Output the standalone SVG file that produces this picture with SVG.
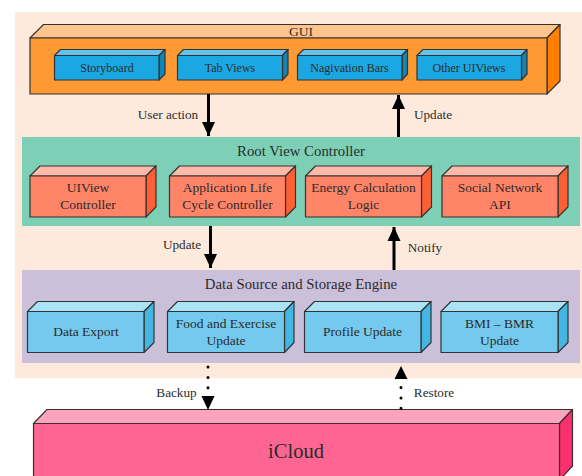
<svg xmlns="http://www.w3.org/2000/svg" width="582" height="476" viewBox="0 0 582 476">
<style>
text{font-family:"Liberation Serif","Times New Roman",serif;fill:#2b2b2b;text-anchor:middle}
.e{stroke:#333;stroke-width:1.2;stroke-linejoin:round}
.t12{font-size:12px}.t13{font-size:13.5px}.t14{font-size:14.8px}.t22{font-size:20.500px}
.lab{font-size:13.200px}
.go{fill:#ff9933}.gt{fill:#ffc48c}.gs{fill:#ff8000}
.bo{fill:#1ba7e2}.bt{fill:#62c4ee}.bs{fill:#1486b6}
.ro{fill:#ff8468}.rt{fill:#ffb9a8}.rs{fill:#ff5f35}
.lo{fill:#74caee}.lt{fill:#aae2f6}.ls{fill:#44b6e4}
.po{fill:#ff6593}.pt{fill:#ffa3bf}.ps{fill:#ff2f6f}
.c{stroke:#000;stroke-width:3;fill:none}
.d{stroke:#000;stroke-width:3;fill:none;stroke-linecap:round;stroke-dasharray:0 10.4}
</style>
<defs>
<marker id="a" markerUnits="userSpaceOnUse" markerWidth="14" markerHeight="14" refX="14" refY="7" orient="auto"><path d="M0 0.5L14 7L0 13.5Z" fill="#000"/></marker>
</defs>
<g id="backgrounds">
<rect x="15" y="12" width="567" height="366" fill="#fdeadd"/>
<rect x="22" y="137" width="558" height="89" fill="#7dd0b6"/>
<rect x="22" y="270" width="558" height="93" fill="#cbc0da"/>
</g>
<g id="gui">
<path class="e gt" d="M30 38L43.500 24.500H560L547 38Z"/><path class="e gs" d="M547 38L560 24.500V81L547 94Z"/><rect class="e go" x="30" y="38" width="517" height="56"/>
<text class="t13" x="301" y="36">GUI</text>
</g>
<g id="storyboard">
<path class="e bt" d="M54.500 55.500L60.500 49.500H165L159 55.500Z"/><path class="e bs" d="M159 55.500L165 49.500V74L159 80Z"/><rect class="e bo" x="54.500" y="55.500" width="104.500" height="24.500"/>
<text class="t12" x="107" y="71.500">Storyboard</text>
</g>
<g id="tab-views">
<path class="e bt" d="M177.500 55.500L183.500 49.500H288L282.500 55.500Z"/><path class="e bs" d="M282.500 55.500L288 49.500V74L282.500 80Z"/><rect class="e bo" x="177.500" y="55.500" width="105" height="24.500"/>
<text class="t12" x="230" y="71.500">Tab Views</text>
</g>
<g id="navigation-bars">
<path class="e bt" d="M297.500 55.500L303.500 49.500H407.500L402 55.500Z"/><path class="e bs" d="M402 55.500L407.500 49.500V74L402 80Z"/><rect class="e bo" x="297.500" y="55.500" width="104.500" height="24.500"/>
<text class="t12" x="349.500" y="71.500">Nagivation Bars</text>
</g>
<g id="other-uiviews">
<path class="e bt" d="M417 55.500L423 49.500H527L521.500 55.500Z"/><path class="e bs" d="M521.500 55.500L527 49.500V74L521.500 80Z"/><rect class="e bo" x="417" y="55.500" width="104.500" height="24.500"/>
<text class="t12" x="469" y="71.500">Other UIViews</text>
</g>
<g id="root-view-controller">
<text class="t14" x="301" y="156">Root View Controller</text>
</g>
<g id="uiview-controller">
<path class="e rt" d="M30 176L40 166H156L146 176Z"/><path class="e rs" d="M146 176L156 166V207L146 217Z"/><rect class="e ro" x="30" y="176" width="116" height="41"/>
<text class="t13" x="88" y="192">UIView</text><text class="t13" x="88" y="209">Controller</text>
</g>
<g id="app-lifecycle">
<path class="e rt" d="M169.500 176L179.500 166H295.500L285.500 176Z"/><path class="e rs" d="M285.500 176L295.500 166V207L285.500 217Z"/><rect class="e ro" x="169.500" y="176" width="116" height="41"/>
<text class="t13" x="227.500" y="192">Application Life</text><text class="t13" x="227.500" y="209">Cycle Controller</text>
</g>
<g id="energy-logic">
<path class="e rt" d="M305.500 176L315.500 166H431.500L421.500 176Z"/><path class="e rs" d="M421.500 176L431.500 166V207L421.500 217Z"/><rect class="e ro" x="305.500" y="176" width="116" height="41"/>
<text class="t13" x="363.500" y="192">Energy Calculation</text><text class="t13" x="363.500" y="209">Logic</text>
</g>
<g id="social-api">
<path class="e rt" d="M442 176L452 166H568L558 176Z"/><path class="e rs" d="M558 176L568 166V207L558 217Z"/><rect class="e ro" x="442" y="176" width="116" height="41"/>
<text class="t13" x="500" y="192">Social Network</text><text class="t13" x="500" y="209">API</text>
</g>
<g id="data-engine">
<text class="t14" x="301" y="289">Data Source and Storage Engine</text>
</g>
<g id="data-export">
<path class="e lt" d="M27.500 311.500L37.500 301.500H154L144 311.500Z"/><path class="e ls" d="M144 311.500L154 301.500V342.500L144 352.500Z"/><rect class="e lo" x="27.500" y="311.500" width="116.500" height="41"/>
<text class="t13" x="86" y="336">Data Export</text>
</g>
<g id="food-exercise">
<path class="e lt" d="M167.500 311.500L177.500 301.500H294L284.500 311.500Z"/><path class="e ls" d="M284.500 311.500L294 301.500V342.500L284.500 352.500Z"/><rect class="e lo" x="167.500" y="311.500" width="117" height="41"/>
<text class="t13" x="226" y="327.500">Food and Exercise</text><text class="t13" x="226" y="344.500">Update</text>
</g>
<g id="profile-update">
<path class="e lt" d="M304.500 311.500L314.500 301.500H431L421 311.500Z"/><path class="e ls" d="M421 311.500L431 301.500V342.500L421 352.500Z"/><rect class="e lo" x="304.500" y="311.500" width="116.500" height="41"/>
<text class="t13" x="362.500" y="336">Profile Update</text>
</g>
<g id="bmi-update">
<path class="e lt" d="M441 311.500L451 301.500H568L558 311.500Z"/><path class="e ls" d="M558 311.500L568 301.500V342.500L558 352.500Z"/><rect class="e lo" x="441" y="311.500" width="117" height="41"/>
<text class="t13" x="499.500" y="327.500">BMI – BMR</text><text class="t13" x="499.500" y="344.500">Update</text>
</g>
<g id="icloud">
<path class="e pt" d="M33.500 423.500L47 409.500H572.500L559.500 423.500Z"/><path class="e ps" d="M559.500 423.500L572.500 409.500V466L559.500 480Z"/><rect class="e po" x="33.500" y="423.500" width="526" height="60"/>
<text class="t22" x="296" y="458">iCloud</text>
</g>
<g id="connectors">
<path class="c" d="M208.500 94V136" marker-end="url(#a)"/>
<path class="c" d="M398.500 137V95" marker-end="url(#a)"/>
<path class="c" d="M210.500 226V268" marker-end="url(#a)"/>
<path class="c" d="M394 270V227" marker-end="url(#a)"/>
<path class="d" d="M208 367V388"/><path d="M201.500 396L214.500 396L208 410Z" fill="#000"/>
<path class="d" d="M401 387.500V408.500"/><path d="M394.500 379L407.500 379L401 366Z" fill="#000"/>
</g>
<g id="connector-labels">
<text class="lab" x="168" y="119">User action</text>
<text class="lab" x="433" y="119">Update</text>
<text class="lab" x="182" y="249">Update</text>
<text class="lab" x="425" y="252">Notify</text>
<text class="lab" x="176.500" y="397">Backup</text>
<text class="lab" x="434" y="397">Restore</text>
</g>
</svg>
